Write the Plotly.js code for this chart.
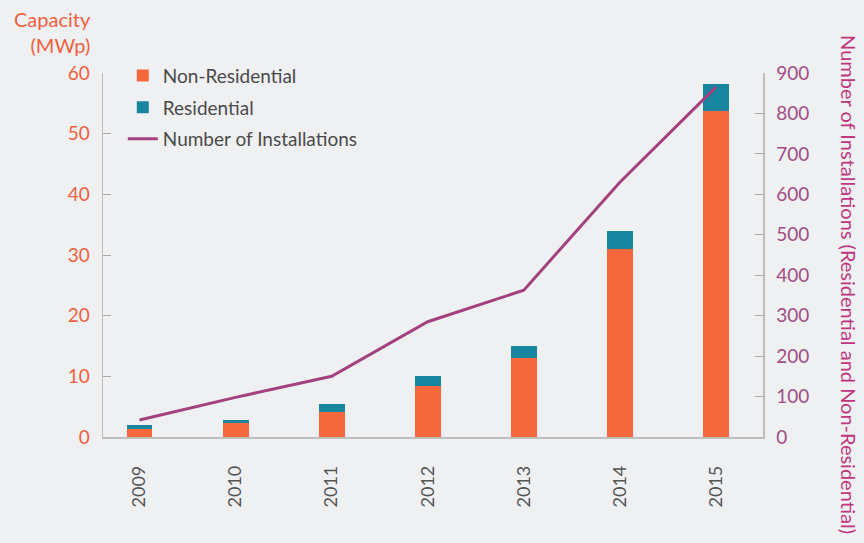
<!DOCTYPE html>
<html>
<head>
<meta charset="utf-8">
<script src="https://cdn.plot.ly/plotly-3.0.1.min.js"></script>
<style>html,body{margin:0;padding:0;background:#eff0f2;}</style>
</head>
<body>
<div id="chart" style="width:864px;height:543px;"></div>
<script>
const years = ['2009', '2010', '2011', '2012', '2013', '2014', '2015'];
const nonResidential = [1.3, 2.35, 4.2, 8.4, 13.1, 31.0, 53.8];
const residential = [0.65, 0.45, 1.2, 1.7, 1.9, 2.9, 4.4];
const installations = [42, 98, 150, 285, 363, 630, 865];

const FONT = 'Lato, "Open Sans", sans-serif';
const ORANGE_TXT = '#f0603f';
const PURPLE_TXT = '#a24d86';

const traces = [
  {type: 'bar', name: 'Non-Residential', x: years, y: nonResidential, legendgroup: 'a',
   marker: {color: '#f4683c'}, width: 0.27},
  {type: 'bar', name: 'Residential', x: years, y: residential, legendgroup: 'b',
   marker: {color: '#17869e'}, width: 0.27},
  {type: 'scatter', mode: 'lines', name: 'Number of Installations', x: years, y: installations,
   legendgroup: 'c', yaxis: 'y2', line: {color: '#a3407f', width: 3}}
];

const layout = {
  width: 864, height: 543,
  paper_bgcolor: '#eff0f2', plot_bgcolor: '#eff0f2',
  margin: {l: 103, r: 101, t: 73, b: 106},
  barmode: 'stack',
  font: {family: FONT, size: 19, color: '#444'},
  showlegend: true,
  legend: {x: 0.03, y: 1.045, xanchor: 'left', yanchor: 'top', traceorder: 'grouped',
           bgcolor: 'rgba(0,0,0,0)', font: {family: FONT, size: 19, color: '#4a4a4a'},
           itemwidth: 30, tracegroupgap: 4},
  xaxis: {type: 'category', range: [-0.38, 6.49], showline: true, linecolor: '#bdbdbd', linewidth: 1.5,
          ticks: '', tickangle: -90, ticklabelstandoff: 20,
          tickfont: {family: FONT, size: 18, color: '#555'}, showgrid: false, zeroline: false},
  yaxis: {range: [0, 60], dtick: 10, showline: true, linecolor: '#bdbdbd', linewidth: 1.5,
          ticks: 'inside', ticklen: 8, tickcolor: '#aaa', showgrid: false, zeroline: false,
          ticklabelstandoff: 8,
          tickfont: {family: FONT, size: 19, color: ORANGE_TXT}},
  yaxis2: {range: [0, 900], dtick: 100, overlaying: 'y', side: 'right', showline: true,
           linecolor: '#bdbdbd', linewidth: 1.5, ticks: 'inside', ticklen: 8, tickcolor: '#aaa',
           showgrid: false, zeroline: false, ticklabelstandoff: 8,
           tickfont: {family: FONT, size: 19, color: PURPLE_TXT}},
  annotations: [
    {text: 'Capacity<br>(MWp)', xref: 'paper', yref: 'paper', x: -0.015, y: 1.188,
     xanchor: 'right', yanchor: 'top', align: 'right', showarrow: false,
     font: {family: FONT, size: 20, color: ORANGE_TXT}},
    {text: 'Number of Installations (Residential and Non-Residential)', xref: 'paper', yref: 'paper',
     x: 1.13, y: 0.418, xanchor: 'center', yanchor: 'middle', textangle: 90, showarrow: false,
     font: {family: FONT, size: 20, color: '#c0357f'}}
  ]
};

Plotly.newPlot('chart', traces, layout, {displayModeBar: false, staticPlot: true});
</script>
</body>
</html>
